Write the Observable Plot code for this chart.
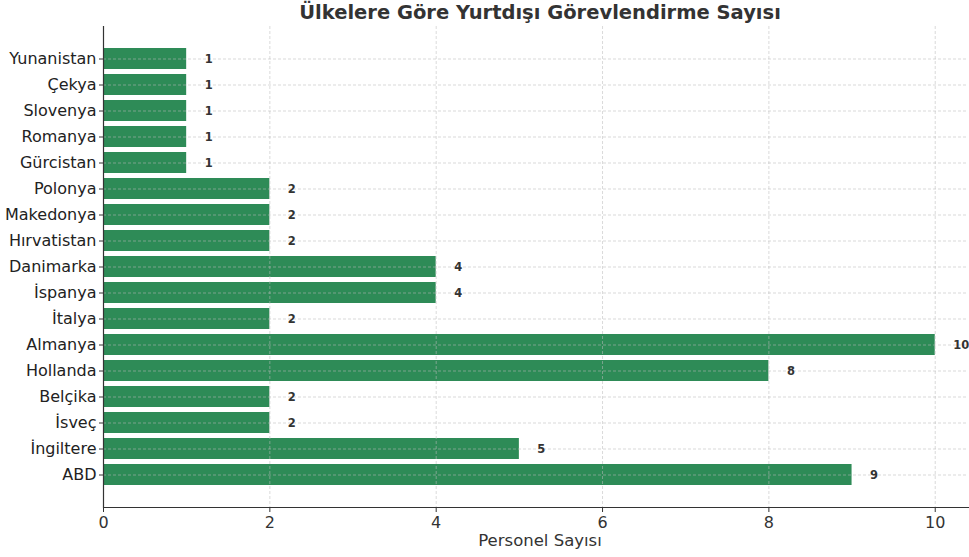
<!DOCTYPE html>
<html>
<head>
<meta charset="utf-8">
<script src="https://cdn.jsdelivr.net/npm/d3@7"></script>
<script src="https://cdn.jsdelivr.net/npm/@observablehq/plot@0.6"></script>
<style>
  html, body { margin: 0; padding: 0; background: #fff; }
  #chart svg { display: block; }
</style>
</head>
<body>
<div id="chart"></div>
<script>
const countries = ["Yunanistan","Çekya","Slovenya","Romanya","Gürcistan","Polonya","Makedonya","Hırvatistan","Danimarka","İspanya","İtalya","Almanya","Hollanda","Belçika","İsveç","İngiltere","ABD"];
const counts = [1,1,1,1,1,2,2,2,4,4,2,10,8,2,2,5,9];
const xTicks = [0,2,4,6,8,10];
const titleText = "Ülkelere Göre Yurtdışı Görevlendirme Sayısı";
const xLabel = "Personel Sayısı";

const data = countries.map((c, i) => ({country: c, value: counts[i]}));

const chart = Plot.plot({
  width: 969,
  height: 557,
  marginLeft: 103,
  marginRight: 1,
  marginTop: 26,
  marginBottom: 50,
  style: {fontFamily: "DejaVu Sans", fontSize: "16px", color: "#333", background: "#fff"},
  x: {domain: [0, 10.4], ticks: xTicks, label: null},
  y: {domain: countries, padding: 0.2, paddingOuter: 0.84, label: null},
  marks: [
    Plot.barX(data, {x: "value", y: "country", fill: "#2e8b57"}),
    Plot.gridX(xTicks, {stroke: "#bbb", strokeOpacity: 0.55, strokeDasharray: "3,2"}),
    Plot.gridY(countries, {stroke: "#bbb", strokeOpacity: 0.55, strokeDasharray: "3,2"}),
    Plot.axisX(xTicks, {tickSize: 5, tickPadding: 4, fontSize: 16, stroke: "#333", fill: "#333", label: null}),
    Plot.axisY({tickSize: 4, tickPadding: 3, fontSize: 16, stroke: "#333", fill: "#222", label: null}),
    Plot.ruleX([0], {stroke: "#333", strokeWidth: 1.2}),
    Plot.frame({anchor: "bottom", stroke: "#333", strokeWidth: 1.2}),
    Plot.text(data, {x: "value", y: "country", text: d => String(d.value), dx: 18, textAnchor: "start", fontWeight: "bold", fontSize: 11.5, fill: "#333"}),
    Plot.text([titleText], {frameAnchor: "top", lineAnchor: "middle", dy: -14, dx: 4, fontWeight: "bold", fontSize: 19.5, fill: "#333"}),
    Plot.text([xLabel], {frameAnchor: "bottom", lineAnchor: "middle", dy: 33, dx: 4, fontSize: 16.5, fill: "#333"})
  ]
});
document.getElementById("chart").appendChild(chart);
</script>
</body>
</html>
